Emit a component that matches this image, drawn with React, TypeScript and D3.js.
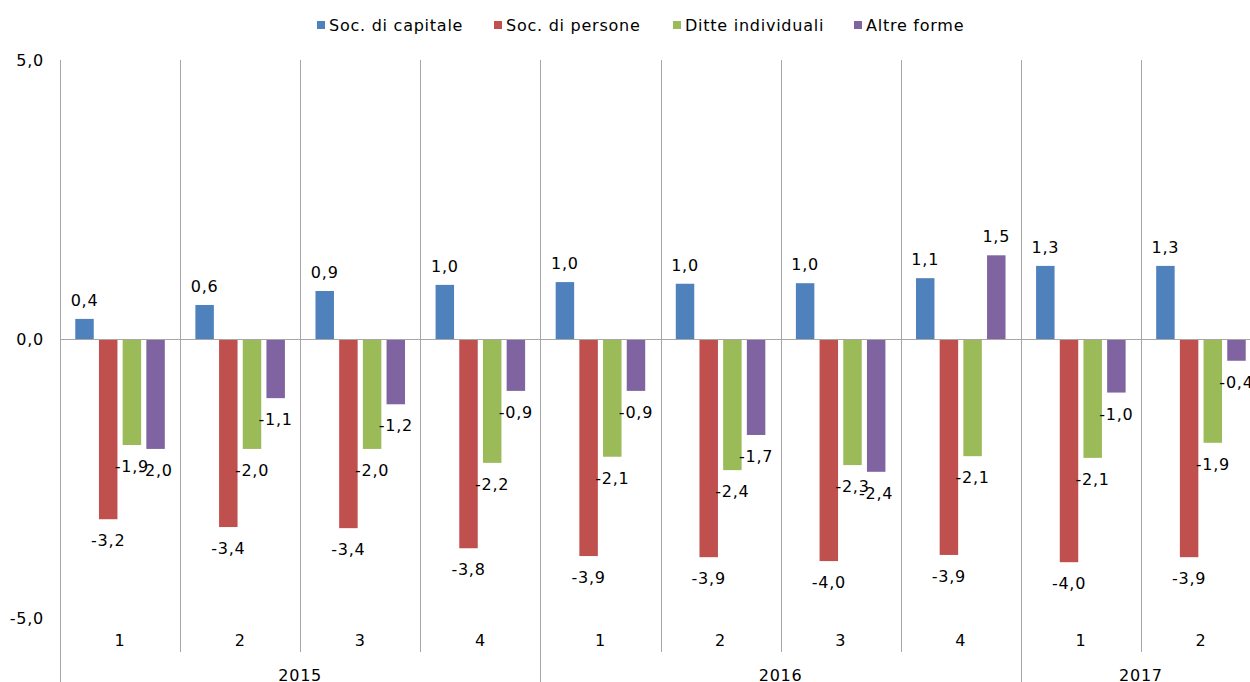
import React from 'react';
import * as d3 from 'd3';

// Quarter labels and years
const quarters = ['1', '2', '3', '4', '1', '2', '3', '4', '1', '2'];
const years = [
  { label: '2015', start: 0, end: 4 },
  { label: '2016', start: 4, end: 8 },
  { label: '2017', start: 8, end: 10 },
];

const seriesNames = ['Soc. di capitale', 'Soc. di persone', 'Ditte individuali', 'Altre forme'];
const seriesColors = ['#4F81BD', '#C0504D', '#9BBB59', '#8064A2'];

const socCapitale = [0.36, 0.61, 0.86, 0.97, 1.02, 0.99, 1.0, 1.09, 1.31, 1.31];
const socPersone = [-3.23, -3.37, -3.39, -3.75, -3.89, -3.91, -3.98, -3.87, -4.0, -3.91];
const ditteIndividuali = [-1.9, -1.97, -1.97, -2.22, -2.11, -2.35, -2.26, -2.1, -2.13, -1.86];
const altreForme = [-1.97, -1.06, -1.17, -0.93, -0.93, -1.72, -2.38, 1.5, -0.96, -0.39];

const yTicks = [5, 0, -5];

const W = 1250;
const H = 682;
const FONT = '"DejaVu Sans", Verdana, sans-serif';
const GRID = '#a6a6a6';
const LS = 0.75; // letter spacing to approach Verdana widths

const fmt = (v: number) => d3.format('.1f')(v).replace('.', ',').replace('−', '-');

export default function App() {
  const series = [socCapitale, socPersone, ditteIndividuali, altreForme];
  const step = 120.1;
  const x0 = d3.scaleBand<number>()
    .domain(d3.range(quarters.length))
    .range([60, 60 + step * quarters.length])
    .padding(0);
  const x1 = d3.scaleBand<number>()
    .domain(d3.range(series.length))
    .range([0, x0.bandwidth()])
    .paddingInner(0.22)
    .paddingOuter(0.645);
  const y = d3.scaleLinear().domain([-5, 5]).range([618, 60]);

  const legendX = [317, 494, 673, 854];

  return (
    <svg width={W} height={H} style={{ position: 'absolute', left: 0, top: 0, display: 'block', background: '#fff' }}
      fontFamily={FONT} letterSpacing={LS}>
      {/* legend */}
      {seriesNames.map((name, i) => (
        <g key={name} transform={`translate(${legendX[i]},0)`}>
          <rect x={0} y={21} width={8} height={8} fill={seriesColors[i]} />
          <text x={12} y={31} fontSize={16} fill="#000">{name}</text>
        </g>
      ))}

      {/* y axis */}
      <line x1={60.5} x2={60.5} y1={60} y2={682} stroke={GRID} />
      {yTicks.map(t => (
        <text key={t} x={44} y={y(t) + 6} fontSize={16} textAnchor="end" fill="#000">{fmt(t)}</text>
      ))}

      {/* category separators */}
      {quarters.map((_, i) => {
        const xx = Math.round((x0(i) as number)) + 0.5;
        const isYear = years.some(yr => yr.start === i);
        return <line key={i} x1={xx} x2={xx} y1={60} y2={isYear ? 682 : 652} stroke={GRID} />;
      })}

      {/* bars */}
      {series.map((vals, s) => vals.map((v, i) => {
        const bx = (x0(i) as number) + (x1(s) as number);
        const top = y(Math.max(0, v));
        const h = Math.abs(y(v) - y(0));
        return <rect key={`${s}-${i}`} x={bx} y={top} width={x1.bandwidth()} height={h} fill={seriesColors[s]} />;
      }))}

      {/* zero line */}
      <line x1={60} x2={W} y1={Math.round(y(0)) + 0.5} y2={Math.round(y(0)) + 0.5} stroke={GRID} />

      {/* value labels */}
      {series.map((vals, s) => vals.map((v, i) => {
        const cx = (x0(i) as number) + (x1(s) as number) + x1.bandwidth() / 2;
        const ly = v >= 0 ? y(v) - 19 + 6 : y(v) + 21 + 6;
        return <text key={`l${s}-${i}`} x={cx} y={ly} fontSize={16} textAnchor="middle" fill="#000">{fmt(v)}</text>;
      }))}

      {/* quarter labels */}
      {quarters.map((q, i) => (
        <text key={`q${i}`} x={(x0(i) as number) + x0.bandwidth() / 2} y={646} fontSize={16} textAnchor="middle" fill="#000">{q}</text>
      ))}

      {/* year labels */}
      {years.map(yr => {
        const a = x0(yr.start) as number;
        const b = (x0(yr.end - 1) as number) + x0.bandwidth();
        return <text key={yr.label} x={(a + b) / 2} y={681} fontSize={16} textAnchor="middle" fill="#000">{yr.label}</text>;
      })}
    </svg>
  );
}
